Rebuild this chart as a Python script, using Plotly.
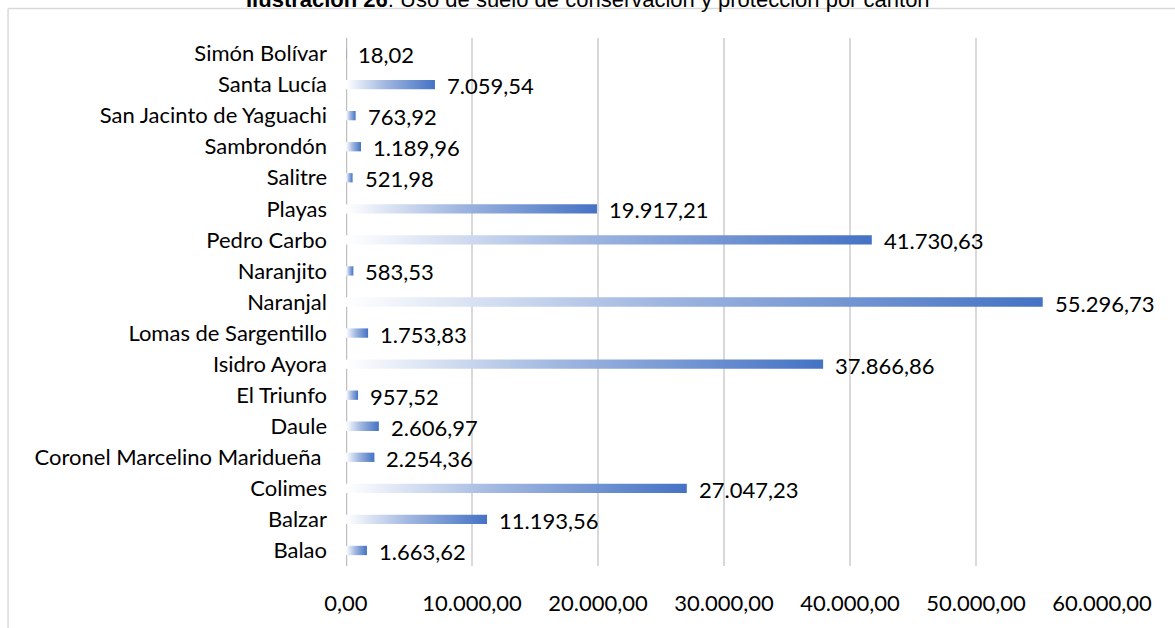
import plotly.graph_objects as go

cantones = ["Balao", "Balzar", "Colimes", "Coronel Marcelino Maridueña\u00a0", "Daule",
            "El Triunfo", "Isidro Ayora", "Lomas de Sargentillo", "Naranjal", "Naranjito",
            "Pedro Carbo", "Playas", "Salitre", "Sambrondón", "San Jacinto de Yaguachi",
            "Santa Lucía", "Simón Bolívar"]
hectareas = [1663.62, 11193.56, 27047.23, 2254.36, 2606.97,
             957.52, 37866.86, 1753.83, 55296.73, 583.53,
             41730.63, 19917.21, 521.98, 1189.96, 763.92,
             7059.54, 18.02]
x_ticks = [0, 10000, 20000, 30000, 40000, 50000, 60000]

FONT = "Lato"
FS = 22
BLUE = "#4472C4"
HALF = 0.15


def fmt(v):
    s = f"{v:,.2f}"
    return s.replace(",", "X").replace(".", ",").replace("X", ".")


fig = go.Figure()
for i, (c, v) in enumerate(zip(cantones, hectareas)):
    fig.add_trace(go.Scatter(
        x=[0, v, v, 0, 0],
        y=[i - HALF, i - HALF, i + HALF, i + HALF, i - HALF],
        mode="lines", line=dict(width=0), fill="toself",
        fillgradient=dict(type="horizontal",
                          colorscale=[[0, "rgba(255,255,255,1)"], [0.45, "#9FB6E0"], [1, BLUE]]),
        hoverinfo="skip", showlegend=False,
    ))
    fig.add_annotation(x=v, y=i, text=fmt(v), showarrow=False, xanchor="left",
                       xshift=10, yshift=-1, font=dict(family=FONT, size=FS, color="#000000"))

# chart outer border (Excel chart frame)
fig.add_shape(type="line", xref="paper", yref="paper", x0=-0.447, x1=1.2, y0=1.056, y1=1.056,
              line=dict(color="#D9D9D9", width=1.5))
fig.add_shape(type="line", xref="paper", yref="paper", x0=-0.447, x1=-0.447, y0=1.056, y1=-0.2,
              line=dict(color="#D9D9D9", width=1.5))

fig.add_annotation(xref="paper", yref="paper", x=0.32, xanchor="center",
                   y=1.056, yanchor="bottom", yshift=-6,
                   showarrow=False,
                   text="<b>Ilustración 26</b>: Uso de suelo de conservación y protección por cantón",
                   font=dict(family="Liberation Sans", size=22, color="#000000"))

fig.update_layout(
    width=1175, height=628,
    margin=dict(l=346, r=73, t=38, b=56, pad=0),
    paper_bgcolor="white", plot_bgcolor="white",
    separators=",.",
    font=dict(family=FONT, size=FS, color="#000000"),
    xaxis=dict(range=[0, 60000], tickvals=x_ticks, tickformat=",.2f",
               showgrid=True, gridcolor="#D9D9D9", gridwidth=1.5,
               zeroline=False, showline=False, ticks="", ticklabelstandoff=22,
               fixedrange=True),
    yaxis=dict(range=[-0.5, len(cantones) - 0.5], tickvals=list(range(len(cantones))),
               ticktext=cantones, showgrid=False, zeroline=False, showline=False,
               ticks="", ticklabelstandoff=18, fixedrange=True),
    showlegend=False,
)
fig.add_shape(type="line", xref="x", yref="paper", x0=0, x1=0, y0=0, y1=1,
              line=dict(color="#BFBFBF", width=2.5), layer="below")

fig.write_html("out.html", config={"displayModeBar": False},
               post_script="document.body.style.margin='0';")
